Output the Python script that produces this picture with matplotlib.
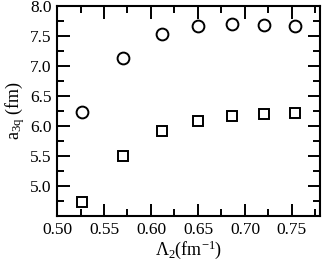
import matplotlib
matplotlib.use("Agg")
import matplotlib.pyplot as plt
from matplotlib.ticker import MultipleLocator

lam = [0.527, 0.570, 0.612, 0.650, 0.686, 0.720, 0.753]
a_circ = [6.24, 7.13, 7.53, 7.67, 7.70, 7.69, 7.66]
a_sq = [4.74, 5.50, 5.91, 6.09, 6.17, 6.20, 6.22]
xticks = [0.50, 0.55, 0.60, 0.65, 0.70, 0.75]
yticks = [5.0, 5.5, 6.0, 6.5, 7.0, 7.5, 8.0]

plt.rcParams['font.family'] = ['Liberation Serif', 'DejaVu Serif']
plt.rcParams['mathtext.fontset'] = 'custom'
plt.rcParams['mathtext.rm'] = 'Liberation Serif'
plt.rcParams['mathtext.it'] = 'Liberation Serif'
plt.rcParams['mathtext.default'] = 'rm'

fig = plt.figure(figsize=(3.24, 2.69), dpi=100)
ax = fig.add_axes([0.176, 0.197, 0.812, 0.781])
ax.plot(lam, a_circ, 'o', ms=8.5, mfc='none', mec='black', mew=1.4)
ax.plot(lam, a_sq, 's', ms=7.8, mfc='none', mec='black', mew=1.4)
ax.set_xlim(0.50, 0.78)
ax.set_ylim(4.5, 8.0)
ax.set_xticks(xticks)
ax.set_xticklabels([f"{v:.2f}" for v in xticks])
ax.set_yticks(yticks)
ax.set_yticklabels([f"{v:.1f}" for v in yticks])
ax.xaxis.set_minor_locator(MultipleLocator(0.025))
ax.yaxis.set_minor_locator(MultipleLocator(0.25))
ax.tick_params(which='both', direction='in', top=True, right=True, labelsize=12.5, width=1.4)
ax.tick_params(which='major', length=9, pad=4)
ax.tick_params(which='minor', length=5)
for s in ax.spines.values():
    s.set_linewidth(1.5)
ax.set_xlabel(r'$\Lambda_2$(fm$^{-1}$)', fontsize=13, labelpad=1)
ax.set_ylabel(r'a$_{3q}$ (fm)', fontsize=13, labelpad=2)
fig.savefig('out.png', dpi=100)
